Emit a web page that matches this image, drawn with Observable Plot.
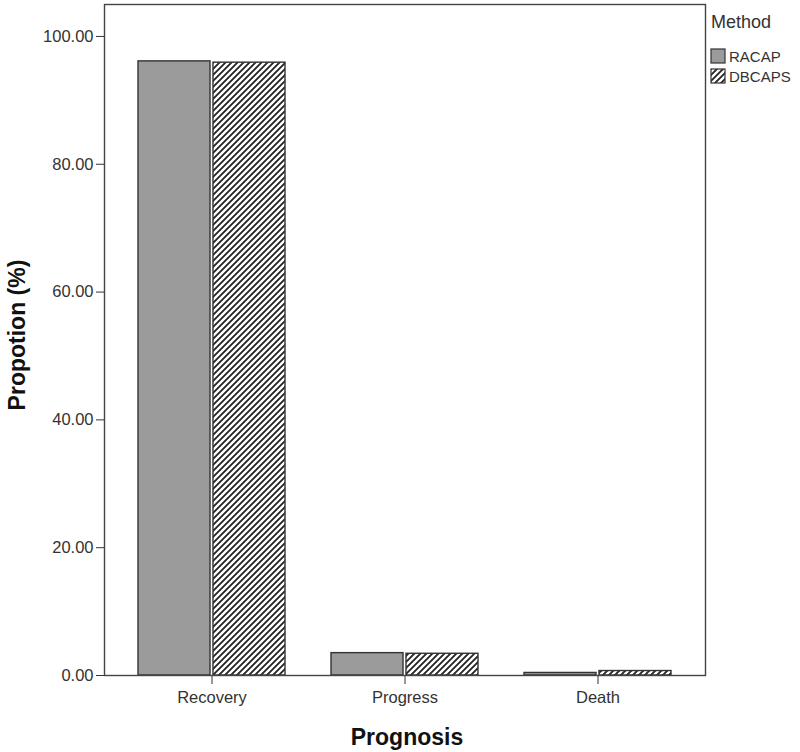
<!DOCTYPE html>
<html>
<head>
<meta charset="utf-8">
<script src="https://cdn.jsdelivr.net/npm/d3@7"></script>
<script src="https://cdn.jsdelivr.net/npm/@observablehq/plot@0.6"></script>
<style>
  html, body { margin: 0; padding: 0; background: #fff; }
  #chart { position: relative; width: 800px; height: 752px; }
</style>
</head>
<body>
<svg width="0" height="0" style="position:absolute">
  <defs>
    <pattern id="hatch" patternUnits="userSpaceOnUse" width="6" height="6">
      <rect width="6" height="6" fill="#fff"></rect>
      <path d="M-1.5,1.5 L1.5,-1.5 M0,6 L6,0 M4.5,7.5 L7.5,4.5" stroke="#222" stroke-width="1.8"></path>
    </pattern>
  </defs>
</svg>
<div id="chart"></div>
<script>
const categories = ["Recovery", "Progress", "Death"];
const methods = ["RACAP", "DBCAPS"];
const racapValues = [96.1, 3.5, 0.4];
const dbcapsValues = [95.9, 3.4, 0.7];
const yTicks = [0, 20, 40, 60, 80, 100];

const rows = [];
categories.forEach((c, i) => {
  rows.push({category: c, method: methods[0], value: racapValues[i]});
  rows.push({category: c, method: methods[1], value: dbcapsValues[i]});
});

const W = 800, H = 752;
const mL = 104, mR = 95, mT = 4, mB = 77;
const pInner = 0.24, pOuter = 0.174;
const step = (W - mL - mR) / (categories.length - pInner + 2 * pOuter);
const bw = step * (1 - pInner);
const gap = 3;
const half = bw / 2 + gap / 2;

const plot = Plot.plot({
  width: W,
  height: H,
  marginLeft: mL,
  marginRight: mR,
  marginTop: mT,
  marginBottom: mB,
  style: {fontFamily: "'Liberation Sans', Arial, sans-serif", fontSize: "16.5px", color: "#333", background: "#fff"},
  x: {domain: categories, paddingInner: pInner, paddingOuter: pOuter, label: null, tickSize: 9, tickPadding: 7},
  y: {domain: [0, 105], ticks: yTicks, tickFormat: d3.format(".2f"), label: null, tickSize: 8, tickPadding: 3},
  marks: [
    Plot.barY(rows.filter(d => d.method === methods[0]), {x: "category", y: "value", fill: "#9b9b9b", stroke: "#333", strokeWidth: 1.4, insetRight: half}),
    Plot.barY(rows.filter(d => d.method === methods[1]), {x: "category", y: "value", fill: "url(#hatch)", stroke: "#333", strokeWidth: 1.4, insetLeft: half}),
    Plot.frame({stroke: "#444", strokeWidth: 1.4})
  ]
});

document.getElementById("chart").appendChild(plot);

const svg = d3.select(plot);
const FF = "'Liberation Sans', Arial, sans-serif";
// axis titles
svg.append("text")
  .attr("transform", "translate(17,335) rotate(-90)")
  .attr("text-anchor", "middle")
  .attr("dominant-baseline", "central")
  .attr("font-family", FF)
  .attr("font-weight", "bold")
  .attr("font-size", 23)
  .attr("fill", "#111")
  .text("Propotion (%)");
svg.append("text")
  .attr("x", 407).attr("y", 745)
  .attr("text-anchor", "middle")
  .attr("font-family", FF)
  .attr("font-weight", "bold")
  .attr("font-size", 23)
  .attr("fill", "#111")
  .text("Prognosis");
// legend
const lg = svg.append("g").attr("font-family", FF).attr("fill", "#333").attr("text-anchor", "start");
lg.append("text").attr("x", 711).attr("y", 28).attr("font-size", 18).attr("text-anchor", "start").text("Method");
const fills = ["#9b9b9b", "url(#hatch)"];
methods.forEach((m, i) => {
  lg.append("rect").attr("x", 711).attr("y", 49 + i * 20).attr("width", 14).attr("height", 14)
    .attr("fill", fills[i]).attr("stroke", "#333").attr("stroke-width", 1.2);
  lg.append("text").attr("x", 729).attr("y", 62 + i * 20).attr("font-size", 15).attr("text-anchor", "start").text(m);
});
</script>
</body>
</html>
